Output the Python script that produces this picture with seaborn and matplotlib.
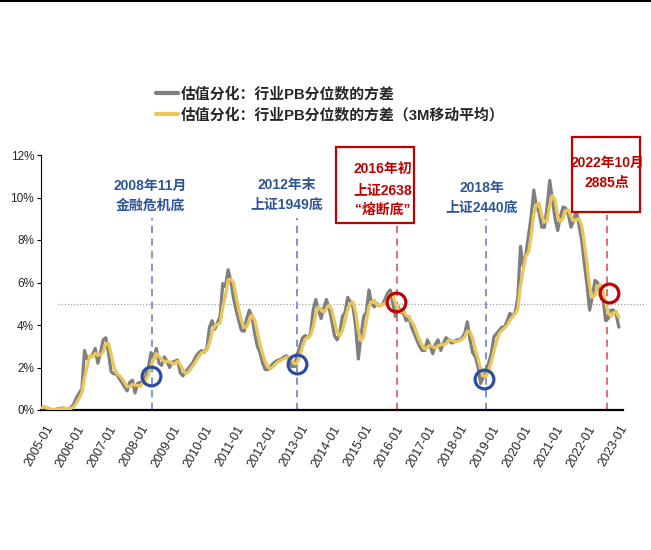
import numpy as np
import pandas as pd
import matplotlib
matplotlib.use("Agg")
import matplotlib.pyplot as plt
import matplotlib.transforms as mtransforms
import seaborn as sns
from matplotlib.patches import Rectangle
from matplotlib.lines import Line2D

# Monthly variance of industry PB percentiles (%), starting 2005-01
pb_var_2005_2008 = [
    0.10, 0.15, 0.05, 0.02, 0.00, 0.03, 0.05, 0.08, 0.10, 0.05, 0.05, 0.12,
    0.30, 0.60, 0.80, 1.00, 2.80, 2.40, 2.50, 2.60, 2.90, 2.20, 2.70, 3.30,
    3.40, 2.70, 1.80, 1.70, 1.70, 1.50, 1.30, 1.10, 0.90, 1.30, 1.40, 0.80,
    1.25, 1.30, 1.35, 1.60, 2.00, 2.70, 2.40, 2.90, 2.20, 2.10, 2.50, 2.30,
]
pb_var_2009_2012 = [
    2.00, 2.25, 2.30, 2.35, 1.75, 1.60, 1.80, 1.95, 2.10, 2.30, 2.55, 2.70,
    2.80, 2.70, 2.90, 3.90, 4.20, 3.80, 4.10, 4.40, 5.95, 5.80, 6.60, 6.10,
    5.30, 4.70, 4.20, 3.75, 3.70, 4.30, 4.70, 4.40, 3.60, 3.00, 2.70, 2.20,
    1.90, 1.90, 2.05, 2.20, 2.30, 2.35, 2.40, 2.50, 2.55, 2.40, 2.05, 2.04,
]
pb_var_2013_2016 = [
    2.60, 3.00, 3.40, 3.50, 3.40, 3.60, 4.70, 5.20, 4.70, 4.30, 4.80, 5.20,
    4.80, 4.20, 3.50, 3.30, 3.60, 4.40, 4.60, 5.30, 5.10, 4.85, 3.90, 2.40,
    3.50, 4.40, 4.60, 5.65, 5.00, 4.85, 5.00, 4.90, 4.95, 5.20, 5.50, 5.65,
    5.00, 4.40, 4.85, 4.60, 4.55, 4.20, 4.40, 3.90, 3.60, 3.30, 3.00, 2.80,
]
pb_var_2017_2020 = [
    2.80, 3.30, 3.00, 2.65, 3.10, 3.30, 2.80, 3.15, 3.40, 3.30, 3.15, 3.20,
    3.30, 3.30, 3.40, 3.60, 4.15, 3.30, 2.70, 2.50, 2.05, 1.25, 1.55, 1.90,
    2.20, 2.65, 3.45, 3.60, 3.75, 3.90, 3.90, 4.20, 4.55, 4.40, 4.60, 5.30,
    7.70, 6.75, 7.30, 8.20, 9.10, 10.35, 9.55, 9.30, 8.60, 8.60, 9.55, 10.80,
]
pb_var_2021_2023 = [
    9.90, 9.00, 8.45, 9.10, 9.55, 9.50, 9.20, 8.60, 8.90, 9.40, 8.70, 8.00,
    6.90, 5.90, 4.70, 5.30, 6.10, 6.00, 5.60, 5.30, 4.20, 4.30, 4.70, 4.70,
    4.50, 3.90,
]
pb_var = (pb_var_2005_2008 + pb_var_2009_2012 + pb_var_2013_2016
          + pb_var_2017_2020 + pb_var_2021_2023)

start_year = 2005
tick_years = list(range(2005, 2024))
tick_labels = [f"{y}-01" for y in tick_years]
y_ticks = [0, 2, 4, 6, 8, 10, 12]

label_raw = "估值分化：行业PB分位数的方差"
label_ma = "估值分化：行业PB分位数的方差（3M移动平均）"

# Market bottoms marked on the chart
event_dates = [2008.44, 2012.98, 2016.14, 2018.91, 2022.70]
event_circle_x = [2008.43, 2012.98, 2016.10, 2018.87, 2022.78]
event_circle_y = [1.61, 2.16, 5.10, 1.44, 5.49]
event_texts = [
    ["2008年11月", "金融危机底"],
    ["2012年末", "上证1949底"],
    ["2016年初", "上证2638", "“熔断底”"],
    ["2018年", "上证2440底"],
    ["2022年10月", "2885点"],
]
event_red = [False, False, True, False, True]
reference_level = 5.0

# ---- style ----
sns.set_style("white")
plt.rcParams["font.family"] = ["Liberation Sans", "Noto Sans CJK SC", "DejaVu Sans"]
plt.rcParams["axes.unicode_minus"] = False
CJK = ["Liberation Sans", "Noto Sans CJK SC", "DejaVu Sans"]

GRAY = "#7F7F7F"
GOLD = "#E9C75A"
BLUE_TXT = "#2F5597"
BLUE_DASH = "#6F8FCB"
BLUE_RING = "#2C4C9C"
RED = "#C00000"
RED_DASH = "#E06262"

W, H = 651, 550
fig = plt.figure(figsize=(W / 100, H / 100), dpi=100)
fig.patch.set_facecolor("white")

AX_L, AX_R, AX_T, AX_B = 41, 623, 155, 410
ax = fig.add_axes([AX_L / W, 1 - AX_B / H, (AX_R - AX_L) / W, (AX_B - AX_T) / H])

PX_PER_YEAR = 31.9
X0 = 42


def X(px):
    return start_year + (px - X0) / PX_PER_YEAR


def Y(py):
    return (AX_B - py) * 12 / (AX_B - AX_T)


# ---- data ----
df = pd.DataFrame({"t": start_year + np.arange(len(pb_var)) / 12.0,
                   "raw": pb_var})
df["ma3"] = df["raw"].rolling(3, min_periods=1).mean()
long = df.melt(id_vars="t", value_vars=["raw", "ma3"],
               var_name="series", value_name="v")
long["series"] = long["series"].map({"raw": label_raw, "ma3": label_ma})

sns.lineplot(data=long, x="t", y="v", hue="series",
             palette={label_raw: GRAY, label_ma: GOLD},
             linewidth=2.3, ax=ax, legend=False, zorder=3)

ax.set_xlim(X(AX_L), X(AX_R))
ax.set_ylim(0, 12)
ax.set_xlabel("")
ax.set_ylabel("")

# 5% reference line
ax.plot([X(58), X(646)], [reference_level, reference_level], ls=(0, (1, 1.5)),
        color="#A6A6A6", lw=0.9, clip_on=False, zorder=1)

# ---- event markers ----
text_tops = [186, 185, 170, 188, 163]
text_cx = [150, 287, 383, 482, 607]
line_tops = [218, 218, 223, 219, 215]
for i, d in enumerate(event_dates):
    red = event_red[i]
    ax.plot([d, d], [0, Y(line_tops[i])], ls=(0, (4, 3)), lw=1.3,
            color=RED_DASH if red else BLUE_DASH, clip_on=False, zorder=2)
    ax.plot(event_circle_x[i], event_circle_y[i], marker="o", ms=13.5,
            mfc="none", mec=RED if red else BLUE_RING, mew=2.3, zorder=5,
            clip_on=False)
    for j, line in enumerate(event_texts[i]):
        ax.text(X(text_cx[i]), Y(text_tops[i] + 20 * j), line,
                ha="center", va="center", fontsize=10, fontweight="bold",
                family=CJK, color=RED if red else BLUE_TXT, zorder=6,
                clip_on=False)

# boxes around the red annotations
for (x1, y1, x2, y2) in [(336, 147, 414, 223), (572, 137, 640, 212)]:
    ax.add_patch(Rectangle((X(x1), Y(y2)), X(x2) - X(x1), Y(y1) - Y(y2),
                           fill=True, facecolor="white", edgecolor=RED,
                           lw=1.6, zorder=4, clip_on=False))

# ---- axes ----
ax.set_xticks(tick_years)
ax.set_xticklabels(tick_labels, rotation=60, ha="right", va="top",
                   rotation_mode="anchor", fontsize=9, color="#262626")
ax.set_yticks(y_ticks)
ax.set_yticklabels([f"{v}%" for v in y_ticks], fontsize=8.5, color="#262626")
ax.tick_params(axis="y", direction="out", length=3, width=0.8, pad=2,
               color="black", left=True)
ax.tick_params(axis="x", direction="out", length=0, pad=3)
for s in ("top", "right"):
    ax.spines[s].set_visible(False)
ax.spines["left"].set_color("black")
ax.spines["left"].set_linewidth(0.8)
ax.spines["bottom"].set_color("black")
ax.spines["bottom"].set_linewidth(1.6)
ax.grid(False)

# ---- legend ----
handles = [Line2D([], [], color=GRAY, lw=3), Line2D([], [], color=GOLD, lw=3)]
leg = fig.legend(handles, [label_raw, label_ma], loc="upper left",
                 bbox_to_anchor=(156 / W, 1 - 87 / H), frameon=False,
                 prop={"family": CJK, "weight": "bold", "size": 10.7},
                 handlelength=1.45, handletextpad=0.2, labelspacing=0.42,
                 borderpad=0, borderaxespad=0)

# thin rule across the top edge
fig.add_artist(Rectangle((0, 1 - 2 / H), 1, 2 / H, transform=fig.transFigure,
                         facecolor="black", edgecolor="none"))

# nudge the rotated date labels down and to the right
fig.canvas.draw()
shift = mtransforms.ScaledTranslation(3 / 100, -9 / 100, fig.dpi_scale_trans)
for lab in ax.get_xticklabels():
    lab.set_transform(lab.get_transform() + shift)

fig.savefig("out.png", dpi=100, facecolor="white")
